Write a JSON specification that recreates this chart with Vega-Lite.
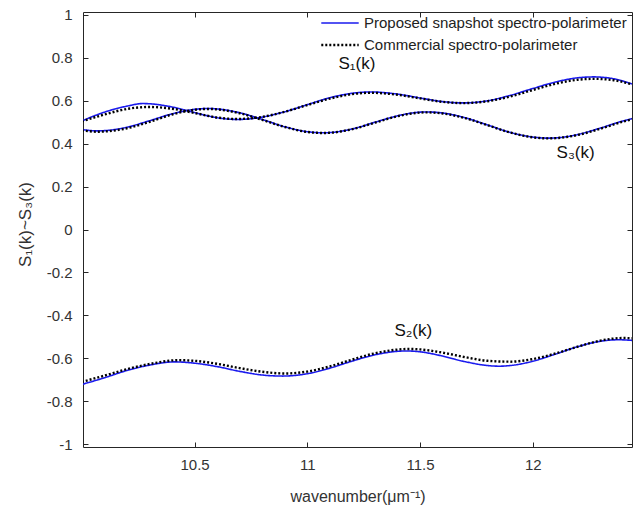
{
  "$schema": "https://vega.github.io/schema/vega-lite/v6.json",
  "width": 549,
  "height": 435,
  "autosize": {"type": "none"},
  "padding": {"left": 83, "top": 12, "right": 1, "bottom": 61},
  "background": "white",
  "config": {
    "view": {"stroke": null},
    "font": "Liberation Sans",
    "axis": {
      "domainColor": "#262626",
      "tickColor": "#262626",
      "labelColor": "#333333",
      "titleColor": "#333333",
      "grid": false,
      "labelFont": "Liberation Sans",
      "titleFont": "Liberation Sans",
      "labelFontSize": 15,
      "titleFontSize": 16,
      "titleFontWeight": "normal",
      "tickSize": -5,
      "labelPadding": 16,
      "domainWidth": 1
    },
    "legend": {
      "labelFont": "Liberation Sans",
      "labelFontSize": 15,
      "labelColor": "#222222",
      "labelLimit": 0
    }
  },
  "datasets": {
    "curves": [
      {"k": 10.0, "v": 0.505, "curve": "S1", "source": "Proposed snapshot spectro-polarimeter"},
      {"k": 10.1, "v": 0.546, "curve": "S1", "source": "Proposed snapshot spectro-polarimeter"},
      {"k": 10.2, "v": 0.574, "curve": "S1", "source": "Proposed snapshot spectro-polarimeter"},
      {"k": 10.27, "v": 0.586, "curve": "S1", "source": "Proposed snapshot spectro-polarimeter"},
      {"k": 10.3, "v": 0.585, "curve": "S1", "source": "Proposed snapshot spectro-polarimeter"},
      {"k": 10.4, "v": 0.570, "curve": "S1", "source": "Proposed snapshot spectro-polarimeter"},
      {"k": 10.5, "v": 0.544, "curve": "S1", "source": "Proposed snapshot spectro-polarimeter"},
      {"k": 10.6, "v": 0.520, "curve": "S1", "source": "Proposed snapshot spectro-polarimeter"},
      {"k": 10.69, "v": 0.512, "curve": "S1", "source": "Proposed snapshot spectro-polarimeter"},
      {"k": 10.8, "v": 0.523, "curve": "S1", "source": "Proposed snapshot spectro-polarimeter"},
      {"k": 10.9, "v": 0.548, "curve": "S1", "source": "Proposed snapshot spectro-polarimeter"},
      {"k": 11.0, "v": 0.581, "curve": "S1", "source": "Proposed snapshot spectro-polarimeter"},
      {"k": 11.1, "v": 0.613, "curve": "S1", "source": "Proposed snapshot spectro-polarimeter"},
      {"k": 11.2, "v": 0.634, "curve": "S1", "source": "Proposed snapshot spectro-polarimeter"},
      {"k": 11.28, "v": 0.640, "curve": "S1", "source": "Proposed snapshot spectro-polarimeter"},
      {"k": 11.4, "v": 0.630, "curve": "S1", "source": "Proposed snapshot spectro-polarimeter"},
      {"k": 11.5, "v": 0.612, "curve": "S1", "source": "Proposed snapshot spectro-polarimeter"},
      {"k": 11.6, "v": 0.595, "curve": "S1", "source": "Proposed snapshot spectro-polarimeter"},
      {"k": 11.69, "v": 0.589, "curve": "S1", "source": "Proposed snapshot spectro-polarimeter"},
      {"k": 11.8, "v": 0.599, "curve": "S1", "source": "Proposed snapshot spectro-polarimeter"},
      {"k": 11.9, "v": 0.624, "curve": "S1", "source": "Proposed snapshot spectro-polarimeter"},
      {"k": 12.0, "v": 0.656, "curve": "S1", "source": "Proposed snapshot spectro-polarimeter"},
      {"k": 12.1, "v": 0.686, "curve": "S1", "source": "Proposed snapshot spectro-polarimeter"},
      {"k": 12.2, "v": 0.706, "curve": "S1", "source": "Proposed snapshot spectro-polarimeter"},
      {"k": 12.27, "v": 0.710, "curve": "S1", "source": "Proposed snapshot spectro-polarimeter"},
      {"k": 12.35, "v": 0.703, "curve": "S1", "source": "Proposed snapshot spectro-polarimeter"},
      {"k": 12.44, "v": 0.677, "curve": "S1", "source": "Proposed snapshot spectro-polarimeter"},

      {"k": 10.0, "v": 0.465, "curve": "S3", "source": "Proposed snapshot spectro-polarimeter"},
      {"k": 10.07, "v": 0.459, "curve": "S3", "source": "Proposed snapshot spectro-polarimeter"},
      {"k": 10.1, "v": 0.460, "curve": "S3", "source": "Proposed snapshot spectro-polarimeter"},
      {"k": 10.2, "v": 0.476, "curve": "S3", "source": "Proposed snapshot spectro-polarimeter"},
      {"k": 10.3, "v": 0.506, "curve": "S3", "source": "Proposed snapshot spectro-polarimeter"},
      {"k": 10.4, "v": 0.538, "curve": "S3", "source": "Proposed snapshot spectro-polarimeter"},
      {"k": 10.5, "v": 0.559, "curve": "S3", "source": "Proposed snapshot spectro-polarimeter"},
      {"k": 10.56, "v": 0.563, "curve": "S3", "source": "Proposed snapshot spectro-polarimeter"},
      {"k": 10.6, "v": 0.561, "curve": "S3", "source": "Proposed snapshot spectro-polarimeter"},
      {"k": 10.7, "v": 0.543, "curve": "S3", "source": "Proposed snapshot spectro-polarimeter"},
      {"k": 10.8, "v": 0.512, "curve": "S3", "source": "Proposed snapshot spectro-polarimeter"},
      {"k": 10.9, "v": 0.478, "curve": "S3", "source": "Proposed snapshot spectro-polarimeter"},
      {"k": 11.0, "v": 0.455, "curve": "S3", "source": "Proposed snapshot spectro-polarimeter"},
      {"k": 11.07, "v": 0.450, "curve": "S3", "source": "Proposed snapshot spectro-polarimeter"},
      {"k": 11.1, "v": 0.451, "curve": "S3", "source": "Proposed snapshot spectro-polarimeter"},
      {"k": 11.2, "v": 0.468, "curve": "S3", "source": "Proposed snapshot spectro-polarimeter"},
      {"k": 11.3, "v": 0.499, "curve": "S3", "source": "Proposed snapshot spectro-polarimeter"},
      {"k": 11.4, "v": 0.529, "curve": "S3", "source": "Proposed snapshot spectro-polarimeter"},
      {"k": 11.5, "v": 0.546, "curve": "S3", "source": "Proposed snapshot spectro-polarimeter"},
      {"k": 11.53, "v": 0.547, "curve": "S3", "source": "Proposed snapshot spectro-polarimeter"},
      {"k": 11.6, "v": 0.542, "curve": "S3", "source": "Proposed snapshot spectro-polarimeter"},
      {"k": 11.7, "v": 0.520, "curve": "S3", "source": "Proposed snapshot spectro-polarimeter"},
      {"k": 11.8, "v": 0.486, "curve": "S3", "source": "Proposed snapshot spectro-polarimeter"},
      {"k": 11.9, "v": 0.452, "curve": "S3", "source": "Proposed snapshot spectro-polarimeter"},
      {"k": 12.0, "v": 0.430, "curve": "S3", "source": "Proposed snapshot spectro-polarimeter"},
      {"k": 12.07, "v": 0.425, "curve": "S3", "source": "Proposed snapshot spectro-polarimeter"},
      {"k": 12.1, "v": 0.426, "curve": "S3", "source": "Proposed snapshot spectro-polarimeter"},
      {"k": 12.2, "v": 0.442, "curve": "S3", "source": "Proposed snapshot spectro-polarimeter"},
      {"k": 12.3, "v": 0.472, "curve": "S3", "source": "Proposed snapshot spectro-polarimeter"},
      {"k": 12.4, "v": 0.505, "curve": "S3", "source": "Proposed snapshot spectro-polarimeter"},
      {"k": 12.44, "v": 0.516, "curve": "S3", "source": "Proposed snapshot spectro-polarimeter"},

      {"k": 10.0, "v": -0.721, "curve": "S2", "source": "Proposed snapshot spectro-polarimeter"},
      {"k": 10.1, "v": -0.690, "curve": "S2", "source": "Proposed snapshot spectro-polarimeter"},
      {"k": 10.2, "v": -0.656, "curve": "S2", "source": "Proposed snapshot spectro-polarimeter"},
      {"k": 10.3, "v": -0.631, "curve": "S2", "source": "Proposed snapshot spectro-polarimeter"},
      {"k": 10.41, "v": -0.616, "curve": "S2", "source": "Proposed snapshot spectro-polarimeter"},
      {"k": 10.5, "v": -0.622, "curve": "S2", "source": "Proposed snapshot spectro-polarimeter"},
      {"k": 10.6, "v": -0.638, "curve": "S2", "source": "Proposed snapshot spectro-polarimeter"},
      {"k": 10.7, "v": -0.660, "curve": "S2", "source": "Proposed snapshot spectro-polarimeter"},
      {"k": 10.8, "v": -0.677, "curve": "S2", "source": "Proposed snapshot spectro-polarimeter"},
      {"k": 10.89, "v": -0.682, "curve": "S2", "source": "Proposed snapshot spectro-polarimeter"},
      {"k": 11.0, "v": -0.671, "curve": "S2", "source": "Proposed snapshot spectro-polarimeter"},
      {"k": 11.1, "v": -0.645, "curve": "S2", "source": "Proposed snapshot spectro-polarimeter"},
      {"k": 11.2, "v": -0.612, "curve": "S2", "source": "Proposed snapshot spectro-polarimeter"},
      {"k": 11.3, "v": -0.583, "curve": "S2", "source": "Proposed snapshot spectro-polarimeter"},
      {"k": 11.44, "v": -0.565, "curve": "S2", "source": "Proposed snapshot spectro-polarimeter"},
      {"k": 11.5, "v": -0.569, "curve": "S2", "source": "Proposed snapshot spectro-polarimeter"},
      {"k": 11.6, "v": -0.589, "curve": "S2", "source": "Proposed snapshot spectro-polarimeter"},
      {"k": 11.7, "v": -0.615, "curve": "S2", "source": "Proposed snapshot spectro-polarimeter"},
      {"k": 11.8, "v": -0.633, "curve": "S2", "source": "Proposed snapshot spectro-polarimeter"},
      {"k": 11.85, "v": -0.636, "curve": "S2", "source": "Proposed snapshot spectro-polarimeter"},
      {"k": 11.9, "v": -0.633, "curve": "S2", "source": "Proposed snapshot spectro-polarimeter"},
      {"k": 12.0, "v": -0.613, "curve": "S2", "source": "Proposed snapshot spectro-polarimeter"},
      {"k": 12.1, "v": -0.580, "curve": "S2", "source": "Proposed snapshot spectro-polarimeter"},
      {"k": 12.2, "v": -0.545, "curve": "S2", "source": "Proposed snapshot spectro-polarimeter"},
      {"k": 12.3, "v": -0.520, "curve": "S2", "source": "Proposed snapshot spectro-polarimeter"},
      {"k": 12.38, "v": -0.513, "curve": "S2", "source": "Proposed snapshot spectro-polarimeter"},
      {"k": 12.44, "v": -0.516, "curve": "S2", "source": "Proposed snapshot spectro-polarimeter"},

      {"k": 10.0, "v": 0.503, "curve": "S1", "source": "Commercial spectro-polarimeter"},
      {"k": 10.1, "v": 0.535, "curve": "S1", "source": "Commercial spectro-polarimeter"},
      {"k": 10.2, "v": 0.561, "curve": "S1", "source": "Commercial spectro-polarimeter"},
      {"k": 10.27, "v": 0.569, "curve": "S1", "source": "Commercial spectro-polarimeter"},
      {"k": 10.3, "v": 0.570, "curve": "S1", "source": "Commercial spectro-polarimeter"},
      {"k": 10.4, "v": 0.562, "curve": "S1", "source": "Commercial spectro-polarimeter"},
      {"k": 10.5, "v": 0.542, "curve": "S1", "source": "Commercial spectro-polarimeter"},
      {"k": 10.6, "v": 0.521, "curve": "S1", "source": "Commercial spectro-polarimeter"},
      {"k": 10.69, "v": 0.514, "curve": "S1", "source": "Commercial spectro-polarimeter"},
      {"k": 10.8, "v": 0.524, "curve": "S1", "source": "Commercial spectro-polarimeter"},
      {"k": 10.9, "v": 0.548, "curve": "S1", "source": "Commercial spectro-polarimeter"},
      {"k": 11.0, "v": 0.579, "curve": "S1", "source": "Commercial spectro-polarimeter"},
      {"k": 11.1, "v": 0.609, "curve": "S1", "source": "Commercial spectro-polarimeter"},
      {"k": 11.2, "v": 0.630, "curve": "S1", "source": "Commercial spectro-polarimeter"},
      {"k": 11.28, "v": 0.636, "curve": "S1", "source": "Commercial spectro-polarimeter"},
      {"k": 11.4, "v": 0.627, "curve": "S1", "source": "Commercial spectro-polarimeter"},
      {"k": 11.5, "v": 0.610, "curve": "S1", "source": "Commercial spectro-polarimeter"},
      {"k": 11.6, "v": 0.594, "curve": "S1", "source": "Commercial spectro-polarimeter"},
      {"k": 11.69, "v": 0.588, "curve": "S1", "source": "Commercial spectro-polarimeter"},
      {"k": 11.8, "v": 0.597, "curve": "S1", "source": "Commercial spectro-polarimeter"},
      {"k": 11.9, "v": 0.619, "curve": "S1", "source": "Commercial spectro-polarimeter"},
      {"k": 12.0, "v": 0.649, "curve": "S1", "source": "Commercial spectro-polarimeter"},
      {"k": 12.1, "v": 0.678, "curve": "S1", "source": "Commercial spectro-polarimeter"},
      {"k": 12.2, "v": 0.697, "curve": "S1", "source": "Commercial spectro-polarimeter"},
      {"k": 12.27, "v": 0.701, "curve": "S1", "source": "Commercial spectro-polarimeter"},
      {"k": 12.35, "v": 0.696, "curve": "S1", "source": "Commercial spectro-polarimeter"},
      {"k": 12.44, "v": 0.675, "curve": "S1", "source": "Commercial spectro-polarimeter"},

      {"k": 10.0, "v": 0.461, "curve": "S3", "source": "Commercial spectro-polarimeter"},
      {"k": 10.07, "v": 0.455, "curve": "S3", "source": "Commercial spectro-polarimeter"},
      {"k": 10.1, "v": 0.456, "curve": "S3", "source": "Commercial spectro-polarimeter"},
      {"k": 10.2, "v": 0.471, "curve": "S3", "source": "Commercial spectro-polarimeter"},
      {"k": 10.3, "v": 0.501, "curve": "S3", "source": "Commercial spectro-polarimeter"},
      {"k": 10.4, "v": 0.535, "curve": "S3", "source": "Commercial spectro-polarimeter"},
      {"k": 10.5, "v": 0.557, "curve": "S3", "source": "Commercial spectro-polarimeter"},
      {"k": 10.56, "v": 0.561, "curve": "S3", "source": "Commercial spectro-polarimeter"},
      {"k": 10.6, "v": 0.559, "curve": "S3", "source": "Commercial spectro-polarimeter"},
      {"k": 10.7, "v": 0.541, "curve": "S3", "source": "Commercial spectro-polarimeter"},
      {"k": 10.8, "v": 0.510, "curve": "S3", "source": "Commercial spectro-polarimeter"},
      {"k": 10.9, "v": 0.477, "curve": "S3", "source": "Commercial spectro-polarimeter"},
      {"k": 11.0, "v": 0.454, "curve": "S3", "source": "Commercial spectro-polarimeter"},
      {"k": 11.07, "v": 0.449, "curve": "S3", "source": "Commercial spectro-polarimeter"},
      {"k": 11.1, "v": 0.450, "curve": "S3", "source": "Commercial spectro-polarimeter"},
      {"k": 11.2, "v": 0.467, "curve": "S3", "source": "Commercial spectro-polarimeter"},
      {"k": 11.3, "v": 0.497, "curve": "S3", "source": "Commercial spectro-polarimeter"},
      {"k": 11.4, "v": 0.527, "curve": "S3", "source": "Commercial spectro-polarimeter"},
      {"k": 11.5, "v": 0.544, "curve": "S3", "source": "Commercial spectro-polarimeter"},
      {"k": 11.53, "v": 0.545, "curve": "S3", "source": "Commercial spectro-polarimeter"},
      {"k": 11.6, "v": 0.540, "curve": "S3", "source": "Commercial spectro-polarimeter"},
      {"k": 11.7, "v": 0.518, "curve": "S3", "source": "Commercial spectro-polarimeter"},
      {"k": 11.8, "v": 0.485, "curve": "S3", "source": "Commercial spectro-polarimeter"},
      {"k": 11.9, "v": 0.451, "curve": "S3", "source": "Commercial spectro-polarimeter"},
      {"k": 12.0, "v": 0.429, "curve": "S3", "source": "Commercial spectro-polarimeter"},
      {"k": 12.07, "v": 0.424, "curve": "S3", "source": "Commercial spectro-polarimeter"},
      {"k": 12.1, "v": 0.425, "curve": "S3", "source": "Commercial spectro-polarimeter"},
      {"k": 12.2, "v": 0.440, "curve": "S3", "source": "Commercial spectro-polarimeter"},
      {"k": 12.3, "v": 0.469, "curve": "S3", "source": "Commercial spectro-polarimeter"},
      {"k": 12.4, "v": 0.502, "curve": "S3", "source": "Commercial spectro-polarimeter"},
      {"k": 12.44, "v": 0.513, "curve": "S3", "source": "Commercial spectro-polarimeter"},

      {"k": 10.0, "v": -0.709, "curve": "S2", "source": "Commercial spectro-polarimeter"},
      {"k": 10.1, "v": -0.680, "curve": "S2", "source": "Commercial spectro-polarimeter"},
      {"k": 10.2, "v": -0.650, "curve": "S2", "source": "Commercial spectro-polarimeter"},
      {"k": 10.3, "v": -0.626, "curve": "S2", "source": "Commercial spectro-polarimeter"},
      {"k": 10.43, "v": -0.608, "curve": "S2", "source": "Commercial spectro-polarimeter"},
      {"k": 10.5, "v": -0.611, "curve": "S2", "source": "Commercial spectro-polarimeter"},
      {"k": 10.6, "v": -0.625, "curve": "S2", "source": "Commercial spectro-polarimeter"},
      {"k": 10.7, "v": -0.645, "curve": "S2", "source": "Commercial spectro-polarimeter"},
      {"k": 10.8, "v": -0.662, "curve": "S2", "source": "Commercial spectro-polarimeter"},
      {"k": 10.9, "v": -0.670, "curve": "S2", "source": "Commercial spectro-polarimeter"},
      {"k": 11.0, "v": -0.661, "curve": "S2", "source": "Commercial spectro-polarimeter"},
      {"k": 11.1, "v": -0.637, "curve": "S2", "source": "Commercial spectro-polarimeter"},
      {"k": 11.2, "v": -0.605, "curve": "S2", "source": "Commercial spectro-polarimeter"},
      {"k": 11.3, "v": -0.576, "curve": "S2", "source": "Commercial spectro-polarimeter"},
      {"k": 11.45, "v": -0.556, "curve": "S2", "source": "Commercial spectro-polarimeter"},
      {"k": 11.5, "v": -0.558, "curve": "S2", "source": "Commercial spectro-polarimeter"},
      {"k": 11.6, "v": -0.573, "curve": "S2", "source": "Commercial spectro-polarimeter"},
      {"k": 11.7, "v": -0.594, "curve": "S2", "source": "Commercial spectro-polarimeter"},
      {"k": 11.8, "v": -0.611, "curve": "S2", "source": "Commercial spectro-polarimeter"},
      {"k": 11.9, "v": -0.615, "curve": "S2", "source": "Commercial spectro-polarimeter"},
      {"k": 12.0, "v": -0.603, "curve": "S2", "source": "Commercial spectro-polarimeter"},
      {"k": 12.1, "v": -0.577, "curve": "S2", "source": "Commercial spectro-polarimeter"},
      {"k": 12.2, "v": -0.545, "curve": "S2", "source": "Commercial spectro-polarimeter"},
      {"k": 12.3, "v": -0.517, "curve": "S2", "source": "Commercial spectro-polarimeter"},
      {"k": 12.4, "v": -0.505, "curve": "S2", "source": "Commercial spectro-polarimeter"},
      {"k": 12.44, "v": -0.506, "curve": "S2", "source": "Commercial spectro-polarimeter"}
    ],
    "labels": [
      {"k": 11.22, "v": 0.77, "label": "S₁(k)"},
      {"k": 12.19, "v": 0.355, "label": "S₃(k)"},
      {"k": 11.47, "v": -0.47, "label": "S₂(k)"}
    ]
  },
  "resolve": {"axis": {"x": "independent", "y": "independent"}},
  "layer": [
    {
      "data": {"name": "curves"},
      "mark": {"type": "line", "clip": true, "interpolate": "monotone"},
      "encoding": {
        "x": {
          "field": "k", "type": "quantitative",
          "scale": {"domain": [10.005, 12.44], "nice": false, "zero": false},
          "axis": {"values": [10.5, 11, 11.5, 12], "format": "~g", "title": "wavenumber(μm⁻¹)", "titleY": 49, "titleBaseline": "middle", "labelPadding": 15}
        },
        "y": {
          "field": "v", "type": "quantitative",
          "scale": {"domain": [-1.012, 1.012], "nice": false, "zero": false},
          "axis": {
            "values": [-1, -0.8, -0.6, -0.4, -0.2, 0, 0.2, 0.4, 0.6, 0.8, 1],
            "format": ".1~f",
            "labelExpr": "replace(datum.label, '−', '-')",
            "title": "S₁(k)~S₃(k)",
            "titleFontSize": 17,
            "titleX": -58, "titleY": 212, "titleAngle": -90, "titleAlign": "center", "titleBaseline": "middle"
          }
        },
        "color": {
          "field": "source", "type": "nominal",
          "scale": {"domain": ["Proposed snapshot spectro-polarimeter", "Commercial spectro-polarimeter"], "range": ["#1a1aee", "#000000"]},
          "legend": {"title": null, "orient": "none", "legendX": 237, "legendY": -9, "padding": 0, "rowPadding": -6, "gridAlign": "none", "symbolType": "stroke", "symbolSize": 1400, "symbolStrokeWidth": 2.2, "labelOffset": 4, "labelLimit": 0}
        },
        "strokeDash": {
          "field": "source", "type": "nominal",
          "scale": {"domain": ["Proposed snapshot spectro-polarimeter", "Commercial spectro-polarimeter"], "range": [[1, 0], [2, 2]]}
        },
        "strokeWidth": {
          "field": "source", "type": "nominal",
          "scale": {"domain": ["Proposed snapshot spectro-polarimeter", "Commercial spectro-polarimeter"], "range": [1.6, 2.4]}
        },
        "detail": {"field": "curve"}
      }
    },
    {
      "data": {"name": "labels"},
      "mark": {"type": "text", "fontSize": 17, "font": "Liberation Sans", "color": "#111111", "align": "center", "baseline": "middle"},
      "encoding": {
        "x": {"field": "k", "type": "quantitative", "axis": {"orient": "top", "values": [10.5, 11, 11.5, 12], "labels": false, "title": null}},
        "y": {"field": "v", "type": "quantitative", "axis": {"orient": "right", "values": [-1, -0.8, -0.6, -0.4, -0.2, 0, 0.2, 0.4, 0.6, 0.8, 1], "labels": false, "title": null}},
        "text": {"field": "label"}
      }
    }
  ]
}
